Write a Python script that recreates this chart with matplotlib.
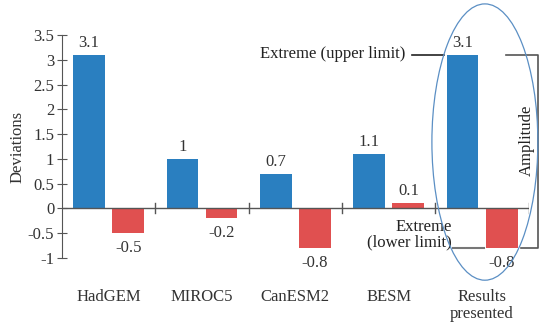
import matplotlib.pyplot as plt
from matplotlib.patches import Ellipse

plt.rcParams['font.family'] = ['Liberation Serif', 'DejaVu Serif']

models = ['HadGEM', 'MIROC5', 'CanESM2', 'BESM', 'Results\npresented']
upper = [3.1, 1.0, 0.7, 1.1, 3.1]
lower = [-0.5, -0.2, -0.8, 0.1, -0.8]
upper_labels = ['3.1', '1', '0.7', '1.1', '3.1']
lower_labels = ['-0.5', '-0.2', '-0.8', '0.1', '-0.8']

blue = '#2a7fc0'
red = '#e05050'
axcol = '#555555'
txt = '#333333'

fig = plt.figure(figsize=(5.39, 3.22), dpi=100)
ax = fig.add_axes([0.115, 0.199, 0.866, 0.692])

x = list(range(len(models)))
w = 0.34
ax.bar([i - 0.21 for i in x], upper, w, color=blue, zorder=2)
ax.bar([i + 0.21 for i in x], lower, w, color=red, zorder=2)

for i in x:
    ax.annotate(upper_labels[i], (i - 0.21, upper[i]), xytext=(0, 3),
                textcoords='offset points', ha='center', va='bottom',
                fontsize=12, color=txt)
    if lower[i] < 0:
        ax.annotate(lower_labels[i], (i + 0.21, lower[i]), xytext=(0, -5),
                    textcoords='offset points', ha='center', va='top',
                    fontsize=12, color=txt)
    else:
        ax.annotate(lower_labels[i], (i + 0.21, lower[i]), xytext=(0, 3),
                    textcoords='offset points', ha='center', va='bottom',
                    fontsize=12, color=txt)
    ax.text(i, -1.63, models[i], ha='center', va='top', fontsize=12,
            color=txt, linespacing=1.1)

# zero line with category separators
ax.axhline(0, color=axcol, lw=1, zorder=3)
for s in [0.5, 1.5, 2.5, 3.5, 4.5]:
    ax.plot([s, s], [-0.1, 0.1], color=axcol, lw=1, zorder=3)

ax.set_xlim(-0.5, 4.5)
ax.set_ylim(-1, 3.5)
ax.set_yticks([-1, -0.5, 0, 0.5, 1, 1.5, 2, 2.5, 3, 3.5])
ax.set_yticklabels(['-1', '-0.5', '0', '0.5', '1', '1.5', '2', '2.5', '3', '3.5'])
ax.set_xticks([])
for sp in ['top', 'right', 'bottom']:
    ax.spines[sp].set_visible(False)
ax.spines['left'].set_color(axcol)
ax.tick_params(axis='y', direction='inout', length=7, color=axcol,
               labelsize=12, labelcolor=txt, pad=2)
ax.set_ylabel('Deviations', fontsize=12, color=txt, labelpad=2)

# annotations
ax.plot([3.25, 3.59], [3.1, 3.1], color='#222222', lw=1.2, clip_on=False)
ax.text(3.18, 3.12, 'Extreme (upper limit)', ha='right', va='center',
        fontsize=12, color='#222222')
ax.plot([3.69, 4.02], [-0.8, -0.8], color='#777777', lw=1.5, clip_on=False)
ax.text(3.68, -0.84, 'Extreme\n(lower limit)', ha='right', va='bottom',
        multialignment='right', fontsize=12, color='#222222', linespacing=0.9)
ax.plot([4.26, 4.6, 4.6, 4.42], [3.1, 3.1, -0.8, -0.8], color='#555555',
        lw=1.2, clip_on=False)
ax.text(4.48, 1.38, 'Amplitude', rotation=90, ha='center', va='center',
        fontsize=12, color='#222222')

ax.add_patch(Ellipse((4.03, 1.34), 1.135, 5.58, fill=False,
                     edgecolor='#5b8fc4', lw=0.9, clip_on=False, zorder=4))

fig.savefig('out.png', dpi=100)
